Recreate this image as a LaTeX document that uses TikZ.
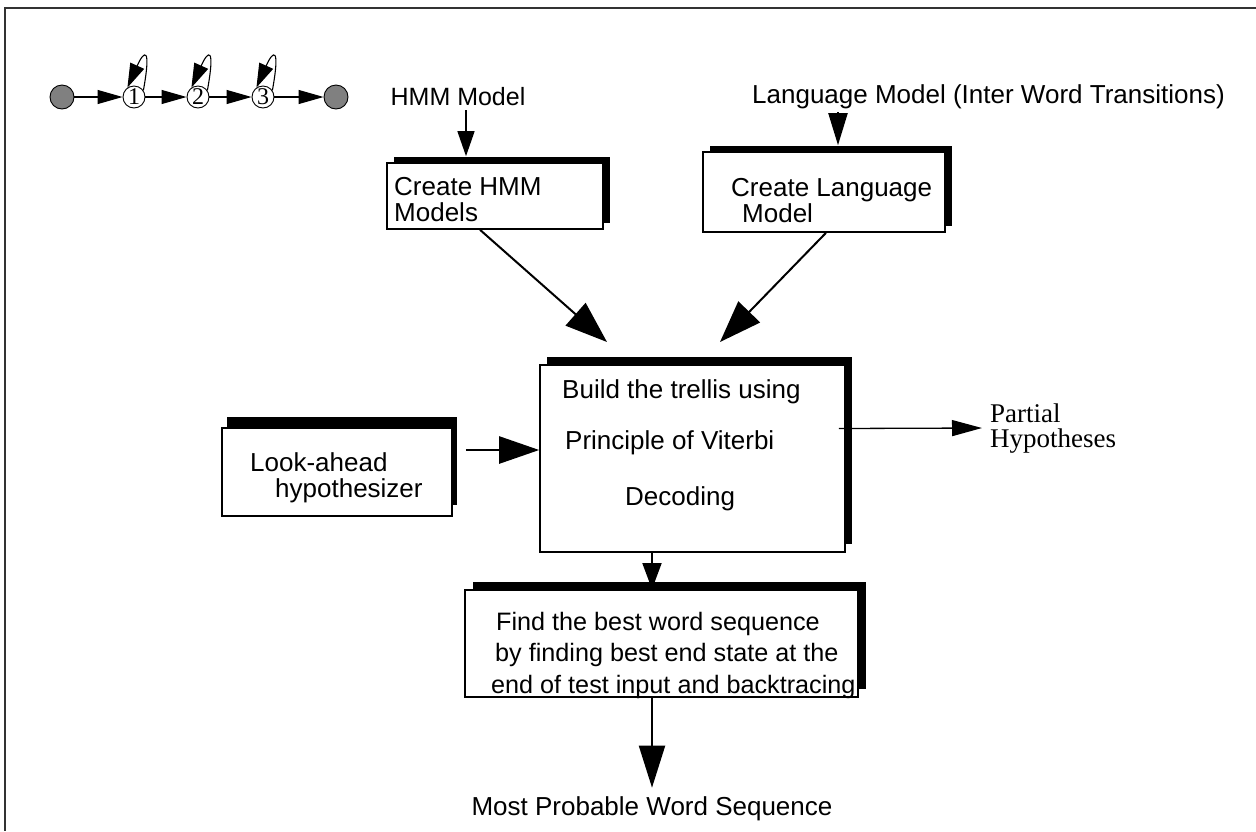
\documentclass[tikz,border=0pt]{standalone}
\usepackage{fontspec}
\setmainfont{Liberation Sans}
\newfontfamily\timesface{Liberation Serif}
\usetikzlibrary{arrows.meta,shadows}

\tikzset{
  panel/.style 2 args={draw, line width=1.6pt, fill=white, inner sep=0pt,
    general shadow={fill=black, shadow xshift=#1, shadow yshift=#2}},
  lbl/.style={font=\fontsize{26}{26}\selectfont, inner sep=0pt, align=left},
  state/.style={circle, draw, line width=0.9pt, fill=white, minimum size=22pt,
    inner sep=0pt, font=\timesface\fontsize{24}{24}\selectfont},
  endstate/.style={circle, draw, line width=0.9pt, fill=black!50,
    minimum size=24pt, inner sep=0pt},
  chain/.style={line width=1.1pt, -{Triangle[length=25pt,width=14pt]}},
  selfloop/.style={line width=1.1pt, -{Triangle[length=24pt,width=15pt]}},
  feed/.style={line width=1.3pt, -{Triangle[length=25pt,width=17pt]}},
  heavy/.style={line width=2pt, -{Triangle[length=42pt,width=30pt]}},
  frame/.style={line width=2.5pt, draw=black!80}
}

\begin{document}
\begin{tikzpicture}[x=1pt,y=-1pt]
\useasboundingbox (0,0) rectangle (1256,831);
\draw[frame] (1256,8) -- (5,8) -- (5,831);

% left-to-right HMM with self transitions
\node[endstate] (s0) at (62,97) {};
\node[state] (s1) at (134,97) {1};
\node[state] (s2) at (198,97) {2};
\node[state] (s3) at (263,97) {3};
\node[endstate] (s4) at (336,97) {};
\draw[chain] (s0) -- (s1);
\draw[chain] (s1) -- (s2);
\draw[chain] (s2) -- (s3);
\draw[chain] (s3) -- (s4);
\foreach \s in {s1,s2,s3}
  \draw[selfloop] (\s.35) .. controls +(8,-44) and +(17,-38) .. (\s.125);

% inputs
\node[lbl, font=\fontsize{25}{25}\selectfont] (hmmsrc) at (458,97) {HMM Model};
\node[lbl, anchor=west] (lmsrc) at (752,97) {Language Model (Inter Word Transitions)};

% processing blocks
\node[panel={7pt}{6pt}, minimum width=216pt, minimum height=66pt] (hmm) at (495,196) {};
\node[lbl, anchor=west] (hmmtxt) at (394,200) {Create HMM\\Models};

\node[panel={7pt}{6pt}, minimum width=242pt, minimum height=80pt] (lm) at (824,192) {};
\node[lbl, anchor=west] (lmtxt) at (731,201) {Create Language\\\hspace*{11pt}Model};

\node[panel={7pt}{8pt}, minimum width=305pt, minimum height=187pt] (build) at (692.5,458.5) {};
\node[lbl, anchor=west] (buildtxt) at (562,445)
  {Build the trellis using\\[25pt]\hspace*{3pt}Principle of Viterbi\\[30pt]\hspace*{63pt}Decoding};

\node[panel={5pt}{11pt}, minimum width=230pt, minimum height=88pt] (look) at (337,472) {};
\node[lbl, anchor=west] (looktxt) at (250,478) {Look-ahead\\\hspace*{25pt}hypothesizer};

\node[panel={8pt}{8pt}, minimum width=393pt, minimum height=107pt] (find) at (661.5,643.5) {};
\node[lbl, anchor=west, font=\fontsize{25.2}{31.5}\selectfont] (findtxt) at (491,655)
  {\hspace*{5pt}Find the best word sequence\\\hspace*{4pt}by finding best end state at the\\end of test input and backtracing};

\node[lbl] (out) at (652,809) {Most Probable Word Sequence};
\node[anchor=west, align=left, inner sep=0pt, font=\timesface\fontsize{27}{25}\selectfont]
  (partial) at (990,429) {Partial\\Hypotheses};

% connectors
\coordinate (hmmfoot) at ([xshift=8pt,yshift=-4pt]hmmsrc.south);
\draw[feed, shorten >=6pt] (hmmfoot) -- (hmmfoot |- hmm.north);
\coordinate (lmfoot) at ([xshift=86pt,yshift=-3pt]lmsrc.south west);
\draw[line width=2pt, -{Triangle[length=32pt,width=19pt]}, shorten >=6pt] (lmfoot) -- (lmfoot |- lm.north);

\coordinate (hmmout) at ([xshift=-15pt]hmm.south);
\coordinate (tipa) at (607,342);
\draw[heavy] (hmmout) -- (tipa);
\coordinate (lmout) at ([xshift=2pt]lm.south);
\coordinate (tipb) at (720,342);
\draw[heavy] (lmout) -- (tipb);

\coordinate (lookout) at ([xshift=13pt,yshift=22pt]look.east);
\draw[line width=2.5pt, -{Triangle[length=40pt,width=27pt]}] (lookout) -- (lookout -| build.west);

\coordinate (trellisout) at ([xshift=-7pt,yshift=30pt]build.east);
\coordinate (ph) at (982,428);
\draw[line width=1.3pt, -{Triangle[length=30pt,width=16pt]}] (trellisout) -- (ph);

\coordinate (downa) at (652,552);
\draw[line width=1.6pt, -{Triangle[length=26pt,width=19pt]}] (downa) -- (downa |- find.north);
\coordinate (downb) at (652,697);
\draw[line width=2pt, -{Triangle[length=42pt,width=26pt]}] (downb) -- ([yshift=9pt]downb |- out.north);
\end{tikzpicture}
\end{document}
